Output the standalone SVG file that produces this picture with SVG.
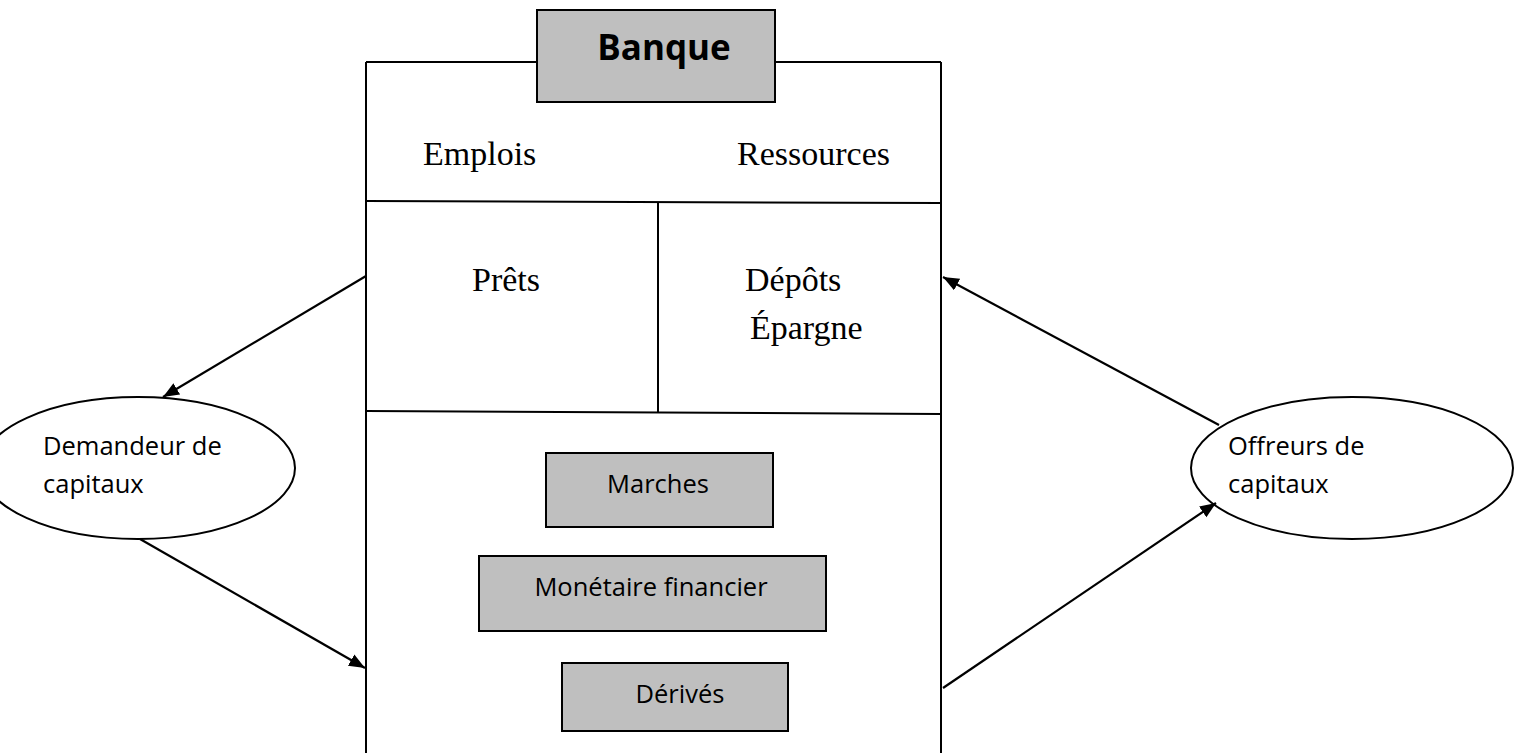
<svg xmlns="http://www.w3.org/2000/svg" width="1517" height="753" viewBox="0 0 1517 753">
<style>
.ln{stroke:#000;stroke-width:2;fill:none}
.box{fill:#bfbfbf;stroke:#000;stroke-width:2}
.ell{fill:#fff;stroke:#000;stroke-width:2}
.tm{font-family:"Liberation Serif",serif;font-size:34px;fill:#000}
.sn{font-family:"Open Sans",sans-serif;font-size:25.5px;fill:#000}
.bd{font-family:"Open Sans",sans-serif;font-size:35px;font-weight:bold;fill:#000}
.con{stroke:#000;stroke-width:2.2;fill:none;marker-end:url(#ah)}
</style>
<defs>
<marker id="ah" markerUnits="userSpaceOnUse" markerWidth="18" markerHeight="16" refX="16" refY="6.5" orient="auto">
<path d="M0,0 L16,6.5 L0,13 z" fill="#000"/>
</marker>
</defs>
<rect width="1517" height="753" fill="#fff"/>
<g id="bank-frame">
<path class="ln" d="M366,62 L537,62 M775,62 L941,62 M366,62 L366,753 M941,62 L941,753"/>
<path class="ln" d="M366,201 L941,203"/>
<path class="ln" d="M658,202 L658,413"/>
<path class="ln" d="M366,411 L941,414"/>
<text class="tm" x="423" y="165">Emplois</text>
<text class="tm" x="737" y="165">Ressources</text>
</g>
<g id="banque">
<rect class="box" x="537" y="10" width="238" height="92"/>
<text class="bd" x="664" y="60" text-anchor="middle">Banque</text>
</g>
<g id="prets">
<text class="tm" x="472" y="291">Prêts</text>
</g>
<g id="depots">
<text class="tm" x="745" y="291">Dépôts</text>
<text class="tm" x="750" y="339">Épargne</text>
</g>
<g id="marches">
<rect class="box" x="546" y="453" width="227" height="74"/>
<text class="sn" x="658" y="493" text-anchor="middle">Marches</text>
</g>
<g id="monetaire">
<rect class="box" x="479" y="556" width="347" height="75"/>
<text class="sn" x="651" y="596" text-anchor="middle">Monétaire financier</text>
</g>
<g id="derives">
<rect class="box" x="562" y="663" width="226" height="68"/>
<text class="sn" x="680" y="703" text-anchor="middle">Dérivés</text>
</g>
<g id="demandeur">
<ellipse class="ell" cx="138" cy="468" rx="157" ry="71"/>
<text class="sn" x="43" y="455">Demandeur de</text>
<text class="sn" x="43" y="493">capitaux</text>
</g>
<g id="offreurs">
<ellipse class="ell" cx="1352" cy="468" rx="161" ry="71"/>
<text class="sn" x="1228" y="455">Offreurs de</text>
<text class="sn" x="1228" y="493">capitaux</text>
</g>
<g id="connectors">
<line class="con" x1="366" y1="276" x2="163" y2="397"/>
<line class="con" x1="140" y1="539" x2="365" y2="668"/>
<line class="con" x1="1219" y1="425" x2="943" y2="277"/>
<line class="con" x1="943" y1="688" x2="1216" y2="503"/>
</g>
</svg>
